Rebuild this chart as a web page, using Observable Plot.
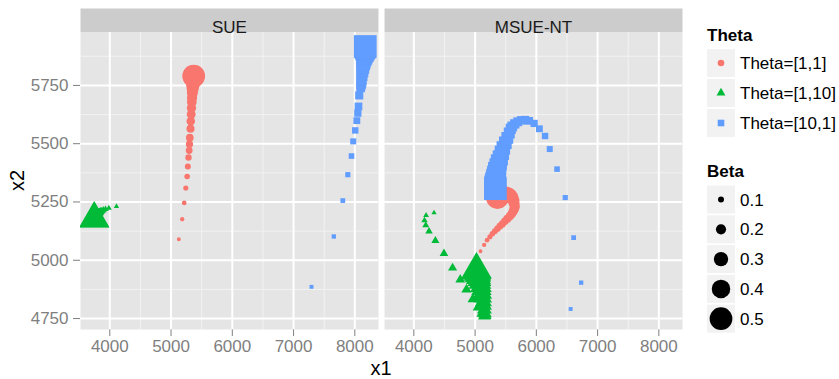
<!DOCTYPE html>
<html><head><meta charset="utf-8">
<script src="https://cdn.jsdelivr.net/npm/d3@7"></script>
<script src="https://cdn.jsdelivr.net/npm/@observablehq/plot@0.6"></script>
<style>
body{margin:0;background:#fff;font-family:"Liberation Sans",Arial,Helvetica,sans-serif}
#wrap{position:relative;width:839px;height:379px;overflow:hidden}
#chart svg{display:block}
g[aria-label^="x-axis"], g[aria-label^="y-axis"]{color:#7f7f7f}
#overlay{position:absolute;left:0;top:0;pointer-events:none}
</style></head><body>
<div id="wrap"><div id="chart"></div><svg id="overlay" width="839" height="379"></svg></div>
<script>
const panels = ["SUE", "MSUE-NT"];
const thetas = ["Theta=[1,1]", "Theta=[1,10]", "Theta=[10,1]"];
const thetaColors = ["#F8766D", "#00BA38", "#619CFF"];
const betas = [0.05,0.06,0.07,0.08,0.09,0.10,0.11,0.12,0.13,0.14,0.15,0.16,0.17,0.18,0.19,0.20,0.22,0.24,0.26,0.28,0.30,0.32,0.34,0.36,0.38,0.40,0.42,0.44,0.46,0.48,0.50];
const betaBreaks = [0.1, 0.2, 0.3, 0.4, 0.5];
const xTicks = [4000, 5000, 6000, 7000, 8000];
const xMinor = [4500, 5500, 6500, 7500];
const yTicks = [4750, 5000, 5250, 5500, 5750];
const yMinor = [4875, 5125, 5375, 5625, 5875];

// SUE
const sue11_x1 = [5127,5182,5215,5241,5263,5274,5285,5296,5301,5306,5318,5322,5329,5334,5339,5343,5348,5352,5355,5358,5360,5362,5364,5365,5366,5367,5368,5369,5369,5370,5370];
const sue11_x2 = [5090,5176,5246,5310,5359,5402,5441,5471,5498,5526,5564,5596,5626,5653,5678,5697,5718,5734,5746,5756,5763,5769,5774,5778,5781,5783,5785,5787,5788,5789,5790];
const sue110_x1 = [4109,3985,3930,3895,3870,3850,3835,3822,3812,3803,3796,3790,3785,3780,3776,3773,3768,3764,3761,3758,3756,3755,3753,3752,3751,3750,3749,3748,3748,3747,3746];
const sue110_x2 = [5231,5224,5219,5215,5211,5208,5205,5202,5200,5198,5196,5194,5193,5191,5190,5189,5187,5186,5185,5184,5183,5183,5182,5182,5181,5181,5180,5180,5179,5178,5178];
const sue101_x1 = [7293,7657,7804,7886,7946,7974,8007,8033,8049,8060,8072,8096,8101,8105,8108,8111,8118,8124,8132,8139,8142,8149,8155,8158,8163,8165,8167,8168,8168,8170,8170];
const sue101_x2 = [4886,5102,5256,5367,5447,5510,5557,5599,5631,5660,5707,5739,5748,5756,5763,5774,5793,5810,5827,5844,5855,5866,5874,5883,5889,5896,5902,5906,5911,5915,5917];
// MSUE-NT
const ms11_x1 = [5088,5148,5196,5242,5282,5323,5364,5404,5445,5485,5526,5567,5599,5623,5640,5648,5636,5628,5607,5583,5558,5526,5494,5469,5445,5429,5412,5396,5380,5372,5364];
const ms11_x2 = [5039,5066,5086,5101,5114,5124,5135,5146,5156,5167,5178,5189,5199,5210,5221,5231,5245,5257,5268,5275,5280,5282,5282,5281,5279,5277,5275,5273,5271,5270,5269];
const ms110_x1 = [4330,4200,4174,4195,4248,4352,4492,4633,4758,4860,4966,5055,5120,5153,5161,5161,5153,5145,5136,5128,5120,5104,5096,5080,5071,5055,5047,5039,5031,5023,5023];
const ms110_x2 = [5204,5193,5171,5150,5124,5084,5029,4967,4917,4874,4833,4799,4773,4762,4764,4773,4790,4807,4824,4841,4859,4876,4891,4906,4919,4929,4938,4946,4953,4957,4960];
const ms101_x1 = [6560,6732,6609,6472,6338,6219,6143,6050,5964,5883,5818,5753,5696,5648,5607,5583,5558,5526,5494,5461,5437,5412,5388,5372,5356,5347,5339,5334,5331,5331,5331];
const ms101_x2 = [4791,4904,5097,5269,5391,5477,5533,5564,5587,5598,5602,5600,5594,5585,5574,5564,5546,5525,5504,5482,5461,5439,5420,5401,5384,5366,5351,5336,5326,5315,5307];

const series = [
  {panel: panels[0], theta: thetas[0], x1: sue11_x1, x2: sue11_x2},
  {panel: panels[0], theta: thetas[1], x1: sue110_x1, x2: sue110_x2},
  {panel: panels[0], theta: thetas[2], x1: sue101_x1, x2: sue101_x2},
  {panel: panels[1], theta: thetas[0], x1: ms11_x1, x2: ms11_x2},
  {panel: panels[1], theta: thetas[1], x1: ms110_x1, x2: ms110_x2},
  {panel: panels[1], theta: thetas[2], x1: ms101_x1, x2: ms101_x2}
];
const rows = series.flatMap(s => betas.map((b, i) => ({panel: s.panel, theta: s.theta, beta: b, x1: s.x1[i], x2: s.x2[i]})));

const FONT = '"Liberation Sans", Arial, Helvetica, sans-serif';
const squareSymbol = {draw(ctx, size) { const s = Math.sqrt(size / Math.PI); ctx.moveTo(-s, -s); ctx.lineTo(s, -s); ctx.lineTo(s, s); ctx.lineTo(-s, s); ctx.closePath(); }};
const symbols = [d3.symbolCircle, d3.symbolTriangle, squareSymbol];

const W = 839, H = 379, mT = 32, mB = 50, mL = 80, mR = 157;
const chart = Plot.plot({
  width: W, height: H,
  marginLeft: mL, marginRight: mR, marginTop: mT, marginBottom: mB,
  style: {fontFamily: FONT, fontSize: "17px", background: "transparent"},
  fx: {domain: panels, paddingInner: 0.02, paddingOuter: 0, round: false, axis: null, label: null},
  x: {domain: [3522, 8386], ticks: xTicks, tickFormat: "d", tickSize: 7, tickPadding: 3, label: null},
  y: {domain: [4703, 5977], ticks: yTicks, tickFormat: "d", tickSize: 7, tickPadding: 5, label: null},
  r: {type: "linear", domain: [0.1, 0.5], range: [3, 11.35]},
  color: {domain: thetas, range: thetaColors},
  symbol: {domain: thetas, range: symbols},
  marks: [
    Plot.frame({fill: "#CCCCCC", stroke: "none", insetTop: -24, insetBottom: H - mT - mB}),
    Plot.frame({fill: "#E5E5E5", stroke: "none"}),
    Plot.ruleX(xMinor, {stroke: "#F2F2F2", strokeWidth: 1}),
    Plot.ruleY(yMinor, {stroke: "#F2F2F2", strokeWidth: 1}),
    Plot.ruleX(xTicks, {stroke: "#FFFFFF", strokeWidth: 2}),
    Plot.ruleY(yTicks, {stroke: "#FFFFFF", strokeWidth: 2}),
    Plot.dot(rows, {fx: "panel", x: "x1", y: "x2", r: "beta", fill: "theta", symbol: "theta", stroke: "none", sort: null, clip: true}),
    Plot.text(panels, {fx: d => d, text: d => d, frameAnchor: "top", dy: -12, fill: "#1A1A1A", fontSize: 17})
  ]
});
document.getElementById("chart").appendChild(chart);

// axis titles and legend
const rScale = chart.scale("r");
const ov = d3.select("#overlay").style("font-family", FONT);
ov.append("text").attr("x", 381).attr("y", 375).attr("text-anchor", "middle").attr("font-size", 20).attr("fill", "#000").text("x1");
ov.append("text").attr("transform", "translate(24,180.5) rotate(-90)").attr("text-anchor", "middle").attr("font-size", 20).attr("fill", "#000").text("x2");

const LX = 707, KS = 28, TX = 740;
ov.append("text").attr("x", LX).attr("y", 41).attr("font-size", 17).attr("font-weight", "bold").attr("fill", "#000").text("Theta");
thetas.forEach((t, i) => {
  const cy = 63 + i * 30;
  ov.append("rect").attr("x", LX).attr("y", cy - KS / 2).attr("width", KS).attr("height", KS).attr("fill", "#F2F2F2");
  ov.append("path").attr("transform", `translate(${LX + KS / 2},${cy})`)
    .attr("d", d3.symbol().type(symbols[i]).size(Math.PI * 3.3 * 3.3)()).attr("fill", thetaColors[i]);
  ov.append("text").attr("x", TX).attr("y", cy).attr("dy", "0.36em").attr("font-size", 17).attr("fill", "#000").text(t);
});
ov.append("text").attr("x", LX).attr("y", 177).attr("font-size", 17).attr("font-weight", "bold").attr("fill", "#000").text("Beta");
betaBreaks.forEach((b, i) => {
  const cy = 199.5 + i * 29.8;
  ov.append("rect").attr("x", LX).attr("y", cy - KS / 2).attr("width", KS).attr("height", KS).attr("fill", "#F2F2F2");
  ov.append("circle").attr("cx", LX + KS / 2).attr("cy", cy).attr("r", rScale.apply(b)).attr("fill", "#000");
  ov.append("text").attr("x", TX).attr("y", cy).attr("dy", "0.36em").attr("font-size", 17).attr("fill", "#000").text(String(b));
});
</script>
</body></html>
